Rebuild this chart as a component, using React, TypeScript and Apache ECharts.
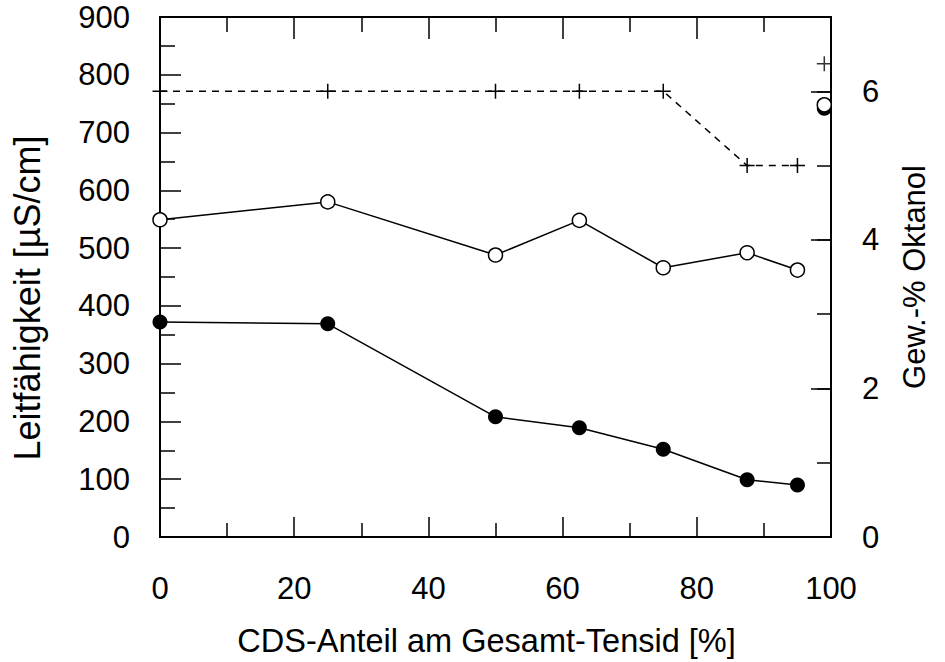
import React, { useEffect, useRef } from "react";
import * as echarts from "echarts";

const xCategories = [0, 25, 50, 62.5, 75, 87.5, 95];
const openValues = [549, 580, 488, 548, 466, 492, 462];
const filledValues = [372, 369, 208, 189, 152, 99, 90];
const octanolValues = [6, 6, 6, 6, 6, 5, 5];
const extraX = 99;
const extraOpen = 748;
const extraFilled = 742;
const extraOctanol = 6.37;

const FONT = "'Liberation Sans', Arial, sans-serif";
const FS = 31;
const PLUS = "path://M45,0 H55 V45 H100 V55 H55 V100 H45 V55 H0 V45 H45 Z";

export default function App() {
  const ref = useRef<HTMLDivElement>(null);
  useEffect(() => {
    if (!ref.current) return;
    const chart = echarts.init(ref.current, null, { renderer: "svg" });
    const pair = (ys: number[]) => xCategories.map((x, i) => [x, ys[i]]);
    const lineStyleAxis = { color: "#000", width: 2 };
    const labelStyle = { color: "#000", fontFamily: FONT, fontSize: FS };
    const tickLine = { color: "#000", width: 1.5 };
    chart.setOption({
      animation: false,
      backgroundColor: "#fff",
      grid: {
        left: 160, right: 114, top: 17, bottom: 125,
        show: true, borderColor: "#000", borderWidth: 2, backgroundColor: "transparent",
      },
      xAxis: [
        {
          type: "value", position: "bottom", min: 0, max: 100, interval: 20,
          axisLine: { show: true, onZero: false, lineStyle: lineStyleAxis },
          axisTick: { show: true, inside: true, length: 20, lineStyle: tickLine },
          minorTick: { show: true, splitNumber: 2, length: 14, lineStyle: tickLine },
          splitLine: { show: false },
          axisLabel: { ...labelStyle, margin: 36 },
          name: "CDS-Anteil am Gesamt-Tensid [%]",
          nameLocation: "middle", nameGap: 87,
          nameTextStyle: { ...labelStyle, fontSize: 32.5, padding: [0, 18, 0, 0] },
        },
        {
          type: "value", position: "top", min: 0, max: 100, interval: 20,
          axisLine: { show: true, onZero: false, lineStyle: lineStyleAxis },
          axisTick: { show: true, inside: true, length: 22, lineStyle: tickLine },
          minorTick: { show: true, splitNumber: 2, length: 15, lineStyle: tickLine },
          splitLine: { show: false },
          axisLabel: { show: false },
        },
      ],
      yAxis: [
        {
          type: "value", position: "left", min: 0, max: 900, interval: 100,
          axisLine: { show: true, onZero: false, lineStyle: lineStyleAxis },
          axisTick: { show: true, inside: true, length: 21, lineStyle: tickLine },
          minorTick: { show: true, splitNumber: 2, length: 15, lineStyle: tickLine },
          splitLine: { show: false },
          axisLabel: { ...labelStyle, margin: 30 },
          name: "Leitfähigkeit [µS/cm]",
          nameLocation: "middle", nameGap: 115, nameRotate: 90,
          nameTextStyle: { ...labelStyle, fontSize: 36, padding: [0, 42, 0, 0] },
        },
        {
          type: "value", position: "right", min: 0, max: 7, interval: 1,
          axisLine: { show: true, onZero: false, lineStyle: lineStyleAxis },
          axisTick: { show: true, inside: true, length: 14, lineStyle: tickLine },
          splitLine: { show: false },
          axisLabel: {
            ...labelStyle, margin: 31,
            formatter: (v: number) => (v % 2 === 0 && v < 7 ? String(v) : ""),
          },
          name: "Gew.-% Oktanol",
          nameLocation: "middle", nameGap: 68, nameRotate: 90,
          nameTextStyle: { ...labelStyle },
        },
        {
          type: "value", position: "right", min: 0, max: 7, interval: 2,
          axisLine: { show: false, onZero: false },
          axisTick: { show: true, inside: true, length: 20, lineStyle: tickLine },
          splitLine: { show: false },
          axisLabel: { show: false },
        },
      ],
      series: [
        {
          type: "line", xAxisIndex: 0, yAxisIndex: 1,
          data: pair(octanolValues),
          symbol: PLUS, symbolSize: 15,
          itemStyle: { color: "#000" },
          lineStyle: { color: "#000", width: 1.5, type: [7, 6] },
          z: 3,
        },
        {
          type: "scatter", xAxisIndex: 0, yAxisIndex: 1,
          data: [[extraX, extraOctanol]],
          symbol: PLUS, symbolSize: 15,
          itemStyle: { color: "#000" },
          z: 3,
        },
        {
          type: "line", xAxisIndex: 0, yAxisIndex: 0,
          data: pair(filledValues),
          symbol: "circle", symbolSize: 15,
          itemStyle: { color: "#000" },
          lineStyle: { color: "#000", width: 1.5 },
          z: 4,
        },
        {
          type: "scatter", xAxisIndex: 0, yAxisIndex: 0,
          data: [[extraX, extraFilled]],
          symbol: "circle", symbolSize: 15,
          itemStyle: { color: "#000", opacity: 1 },
          z: 4,
        },
        {
          type: "line", xAxisIndex: 0, yAxisIndex: 0,
          data: pair(openValues),
          symbol: "circle", symbolSize: 14,
          itemStyle: { color: "#fff", borderColor: "#000", borderWidth: 1.5 },
          lineStyle: { color: "#000", width: 1.5 },
          z: 5,
        },
        {
          type: "scatter", xAxisIndex: 0, yAxisIndex: 0,
          data: [[extraX, extraOpen]],
          symbol: "circle", symbolSize: 14,
          itemStyle: { color: "#fff", borderColor: "#000", borderWidth: 1.5, opacity: 1 },
          z: 5,
        },
      ],
    });
    return () => chart.dispose();
  }, []);
  return (
    <div
      ref={ref}
      style={{ position: "absolute", left: 0, top: 0, width: 945, height: 662 }}
    />
  );
}
